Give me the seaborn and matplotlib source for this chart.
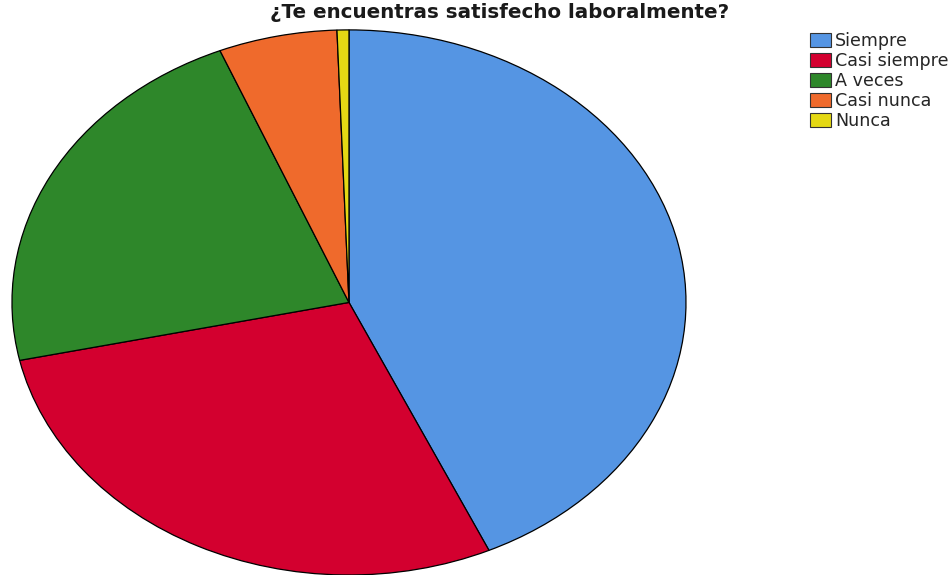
import matplotlib
matplotlib.use("Agg")
import matplotlib.pyplot as plt
import seaborn as sns
from matplotlib.patches import Patch

sns.set_theme(style="white")
plt.rcParams['font.family'] = ['DejaVu Sans']

categories = ["Siempre", "Casi siempre", "A veces", "Casi nunca", "Nunca"]
counts = [76, 50, 39, 10, 1]
colors = sns.color_palette(["#5595E3", "#D3002F", "#2E872A", "#EF6A2C", "#E4D814"])

fig = plt.figure(figsize=(9.5, 5.75), dpi=100)
ax = fig.add_axes([0.0126, 0.0, 0.7095, 0.948])
ax.pie(counts, colors=colors, startangle=90, counterclock=False,
       wedgeprops=dict(edgecolor="black", linewidth=0.9))
ax.set_aspect("auto")
ax.set_xlim(-1.0, 1.0)
ax.set_ylim(-1.0, 1.0)
ax.axis("off")

fig.text(0.5263, 0.995, "¿Te encuentras satisfecho laboralmente?", ha="center", va="top",
         fontsize=14.3, fontweight="bold", color="#1a1a1a")

handles = [Patch(facecolor=c, edgecolor="#333333", linewidth=0.8) for c in colors]
fig.legend(handles, categories, loc="upper left", bbox_to_anchor=(0.853, 0.945),
           frameon=False, fontsize=12.6, handlelength=1.2, handleheight=0.85,
           handletextpad=0.2, labelspacing=0.12, borderaxespad=0.0,
           borderpad=0.0)

fig.savefig("out.png", dpi=100)
